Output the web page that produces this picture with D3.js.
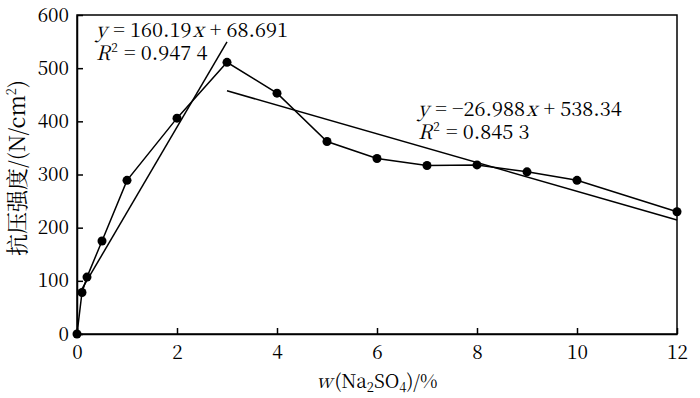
<!DOCTYPE html>
<html>
<head>
<meta charset="utf-8">
<script src="https://cdn.jsdelivr.net/npm/d3@7"></script>
<style>
  body { margin: 0; background: #fff; }
  svg { display: block; }
</style>
</head>
<body>
<svg class="chart" width="700" height="398"></svg>
<script>
const dosage = [0, 0.1, 0.2, 0.5, 1, 2, 3, 4, 5, 6, 7, 8, 9, 10, 12]
const strength = [0, 78, 107, 175, 289, 406, 511, 453, 362, 330, 317, 318, 305, 289, 230]
const xTicks = [0, 2, 4, 6, 8, 10, 12]
const yTicks = [0, 100, 200, 300, 400, 500, 600]
// fitted lines: [slope, intercept, x from, x to]
const fit1 = [160.19, 68.691, 0.1, 3]
const fit2 = [-26.988, 538.34, 3, 12]

const serif = 'Noto Serif CJK SC'
const fs = 19
const sp = '\u00a0'
const svg = d3.select('.chart')
const x = d3.scaleLinear([0, 12], [77, 677])
const y = d3.scaleLinear([0, 600], [334, 15])

// frame
svg.append('rect')
    .attr('x', 77).attr('y', 15)
    .attr('width', 600).attr('height', 319)
    .attr('fill', 'none').attr('stroke', '#000').attr('stroke-width', 1.5)

const xAxis = svg.append('g')
    .attr('transform', 'translate(0,334)')
    .call(d3.axisBottom(x).tickValues(xTicks).tickSizeInner(-6).tickSizeOuter(0).tickPadding(10))
const yAxis = svg.append('g')
    .attr('transform', 'translate(77,0)')
    .call(d3.axisLeft(y).tickValues(yTicks).tickSizeInner(-6).tickSizeOuter(0).tickPadding(8))

for (const ax of [xAxis, yAxis]) {
    ax.attr('font-family', serif).attr('font-size', fs)
    ax.select('.domain').attr('stroke-width', 1.5)
    ax.selectAll('.tick line').attr('stroke-width', 1.5)
}
xAxis.selectAll('.tick text').attr('dy', '0.8em')

// data line
const pts = dosage.map((d, i) => [d, strength[i]])
svg.append('path')
    .attr('d', d3.line().x(d => x(d[0])).y(d => y(d[1]))(pts))
    .attr('fill', 'none').attr('stroke', '#000').attr('stroke-width', 1.5)

// fits
for (const f of [fit1, fit2]) {
    svg.append('line')
        .attr('x1', x(f[2])).attr('y1', y(f[0] * f[2] + f[1]))
        .attr('x2', x(f[3])).attr('y2', y(f[0] * f[3] + f[1]))
        .attr('stroke', '#000').attr('stroke-width', 1.5)
}

svg.selectAll('circle')
    .data(pts)
    .join('circle')
        .attr('cx', d => x(d[0]))
        .attr('cy', d => y(d[1]))
        .attr('r', 4.5)
        .attr('fill', '#000')

// equations
function equation(px, py, slope, icpt, r2) {
    const t = svg.append('text').attr('x', px).attr('y', py)
        .attr('font-family', serif).attr('font-size', 20)
    t.append('tspan').attr('font-style', 'italic').text('y')
    t.append('tspan').attr('dx', 1).text(sp + '=' + sp + slope)
    t.append('tspan').attr('dx', 1).attr('font-style', 'italic').text('x')
    t.append('tspan').attr('dx', 1).text(sp + '+' + sp + icpt)
    const r = svg.append('text').attr('x', px).attr('y', py + 23)
        .attr('font-family', serif).attr('font-size', 20)
    r.append('tspan').attr('font-style', 'italic').text('R')
    r.append('tspan').attr('dx', 1).attr('font-size', 12).attr('dy', -8).text('2')
    r.append('tspan').attr('dx', 1).attr('dy', 8).text(sp + '=' + sp + r2)
}
equation(96, 37, '160.19', '68.691', '0.947 4')
equation(418, 116, '\u221226.988', '538.34', '0.845 3')

// x label
const xl = svg.append('text')
    .attr('x', 377).attr('y', 388)
    .attr('text-anchor', 'middle')
    .attr('font-family', serif).attr('font-size', fs)
xl.append('tspan').attr('font-style', 'italic').text('w')
xl.append('tspan').attr('dx', 2).text('(Na')
xl.append('tspan').attr('font-size', 13).attr('dy', 4).text('2')
xl.append('tspan').attr('dy', -4).text('SO')
xl.append('tspan').attr('font-size', 13).attr('dy', 4).text('4')
xl.append('tspan').attr('dy', -4).text(')/%')

// y label
const yl = svg.append('text')
    .attr('text-anchor', 'middle')
    .attr('transform', 'translate(25,168) rotate(-90)')
    .attr('font-family', serif).attr('font-size', 22)
yl.append('tspan').text('抗压强度/(N/cm')
yl.append('tspan').attr('font-size', 13).attr('dy', -9).text('2')
yl.append('tspan').attr('dy', 9).text(')')
</script>
</body>
</html>
